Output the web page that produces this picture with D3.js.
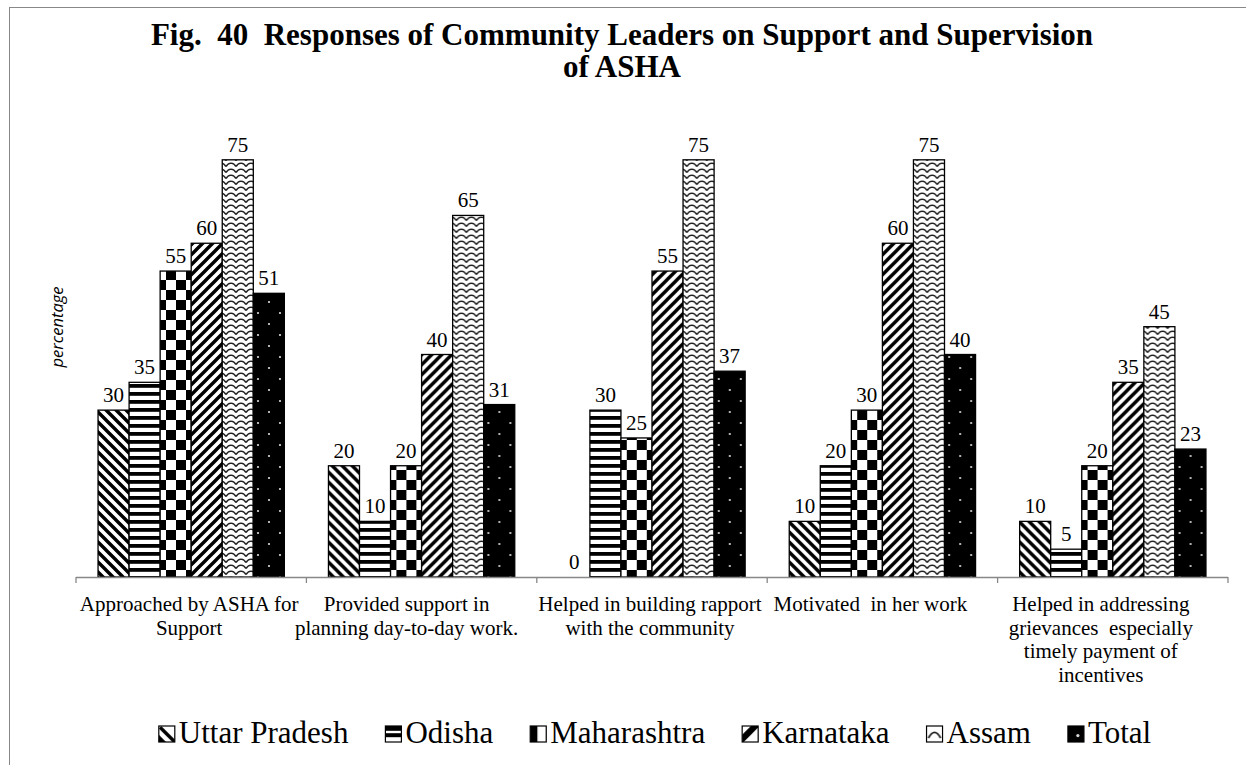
<!DOCTYPE html>
<html lang="en">
<head>
<meta charset="UTF-8">
<title>Fig. 40 Support and Supervision of ASHA</title>
<script src="https://cdnjs.cloudflare.com/ajax/libs/d3/7.8.5/d3.min.js"></script>
<style>
    body { margin: 0; background: #fff; }
    svg { display: block; font-family: "Liberation Serif", "Times New Roman", serif; }
    .title { font-weight: bold; font-size: 31px; white-space: pre; }
    .cat { font-size: 21px; white-space: pre; }
    .val { font-size: 21px; }
    .legend text { font-size: 31px; }
</style>
</head>
<body>
<svg id="chart" width="1246" height="765"></svg>
<script>
// categories (wrapped the way the picture wraps them)
var categories = ["Approached by ASHA for Support",
    "Provided support in planning day-to-day work.",
    "Helped in building rapport with the community",
    "Motivated  in her work",
    "Helped in addressing grievances  especially timely payment of incentives"];
var categoryLines = [
    ["Approached by ASHA for", "Support"],
    ["Provided support in", "planning day-to-day work."],
    ["Helped in building rapport", "with the community"],
    ["Motivated  in her work"],
    ["Helped in addressing", "grievances  especially", "timely payment of", "incentives"]];

var seriesNames = ["Uttar Pradesh", "Odisha", "Maharashtra", "Karnataka", "Assam", "Total"];
var uttarPradesh = [30, 20, 0, 10, 10];
var odisha = [35, 10, 30, 20, 5];
var maharashtra = [55, 20, 25, 30, 20];
var karnataka = [60, 40, 55, 60, 35];
var assam = [75, 65, 75, 75, 45];
var total = [51, 31, 37, 40, 23];
var seriesValues = [uttarPradesh, odisha, maharashtra, karnataka, assam, total];

var svg = d3.select("#chart");
var defs = svg.append("defs");

// bar fill patterns
function pat(id, w, h, bg) {
    var p = defs.append("pattern").attr("id", id)
        .attr("patternUnits", "userSpaceOnUse")
        .attr("width", w).attr("height", h);
    p.append("rect").attr("width", w).attr("height", h).attr("fill", bg);
    return p;
}
pat("p0", 10, 10, "#fff").append("path")
    .attr("d", "M-5,5 L5,15 M0,0 L10,10 M5,-5 L15,5")
    .attr("stroke", "#000").attr("stroke-width", 3.4);
pat("p1", 8, 8, "#fff").append("rect")
    .attr("width", 8).attr("height", 3.8).attr("fill", "#000");
var chk = pat("p2", 20, 20, "#fff");
chk.append("rect").attr("width", 10).attr("height", 10).attr("fill", "#000");
chk.append("rect").attr("x", 10).attr("y", 10).attr("width", 10).attr("height", 10).attr("fill", "#000");
pat("p3", 10, 10, "#fff").append("path")
    .attr("d", "M-5,5 L5,-5 M0,10 L10,0 M5,15 L15,5")
    .attr("stroke", "#000").attr("stroke-width", 3.4);
pat("p4", 10, 6, "#fff").append("path")
    .attr("d", "M0,4.6 Q2.5,0.6 5,1.4 Q7.5,0.6 10,4.6")
    .attr("fill", "none").attr("stroke", "#222").attr("stroke-width", 1.5);
var dots = pat("p5", 22, 22, "#000");
dots.append("circle").attr("cx", 6).attr("cy", 5).attr("r", 1.1).attr("fill", "#ddd");
dots.append("circle").attr("cx", 17).attr("cy", 16).attr("r", 1.1).attr("fill", "#ddd");

// legend keys: excel shows one blown-up tile in each small box
function key(id, bg) {
    var p = defs.append("pattern").attr("id", id)
        .attr("patternUnits", "objectBoundingBox")
        .attr("patternContentUnits", "objectBoundingBox")
        .attr("width", 1).attr("height", 1);
    p.append("rect").attr("width", 1).attr("height", 1).attr("fill", bg);
    return p;
}
key("k0", "#fff").append("path").attr("d", "M0,0.15 L0.15,0 L1,0.85 L1,1 L0.85,1 L0,0.15 Z M0,0.55 L0.45,1 L0,1 Z").attr("fill", "#000");
var kO = key("k1", "#fff");
kO.append("rect").attr("width", 1).attr("height", 0.3).attr("fill", "#000");
kO.append("rect").attr("y", 0.45).attr("width", 1).attr("height", 0.25).attr("fill", "#000");
key("k2", "#fff").append("rect").attr("width", 0.45).attr("height", 1).attr("fill", "#000");
key("k3", "#fff").append("path").attr("d", "M0,1 L0,0.55 L0.55,0 L1,0 L1,0.1 L0.1,1 Z").attr("fill", "#000");
key("k4", "#fff").append("path").attr("d", "M0.12,0.75 Q0.5,0.05 0.88,0.75")
    .attr("fill", "none").attr("stroke", "#222").attr("stroke-width", 0.12);
key("k5", "#000").append("circle").attr("cx", 0.62).attr("cy", 0.6).attr("r", 0.1).attr("fill", "#ddd");

// outer frame (only left and top edges fall inside the picture)
svg.append("rect").attr("x", 9.5).attr("y", 7.5).attr("width", 1300).attr("height", 900)
    .attr("fill", "none").attr("stroke", "#888");

// title
svg.append("text").attr("class", "title").attr("x", 622).attr("y", 45)
    .attr("text-anchor", "middle")
    .text("Fig.  40  Responses of Community Leaders on Support and Supervision");
svg.append("text").attr("class", "title").attr("x", 622).attr("y", 77)
    .attr("text-anchor", "middle").text("of ASHA");

var plotLeft = 76, plotRight = 1228, plotBase = 577, plotTop = 132;

var x0 = d3.scaleBand().domain(categories).range([plotLeft, plotRight]).padding(0);
var x1 = d3.scaleBand().domain(seriesNames).range([0, x0.bandwidth()])
    .paddingInner(0).paddingOuter(0.71);
var y = d3.scaleLinear().domain([0, 80]).range([plotBase, plotTop]);

// bars
var groups = svg.append("g").selectAll("g").data(categories).enter().append("g")
    .attr("transform", function (d) { return "translate(" + x0(d) + ",0)"; });

groups.each(function (cat, i) {
    var g = d3.select(this);
    var rows = seriesNames.map(function (s, j) { return { s: s, j: j, v: seriesValues[j][i] }; });
    g.selectAll("rect").data(rows).enter().append("rect")
        .attr("x", function (d) { return x1(d.s); })
        .attr("y", function (d) { return y(d.v); })
        .attr("width", x1.bandwidth())
        .attr("height", function (d) { return y(0) - y(d.v); })
        .attr("fill", function (d) { return "url(#p" + d.j + ")"; })
        .attr("stroke", function (d) { return d.v > 0 ? "#000" : "none"; })
        .attr("stroke-width", 1.3);
    g.selectAll("text").data(rows).enter().append("text")
        .attr("class", "val")
        .attr("x", function (d) { return x1(d.s) + x1.bandwidth() / 2; })
        .attr("y", function (d) { return y(d.v) - 8; })
        .attr("text-anchor", "middle")
        .text(function (d) { return d.v; });
});

// category axis: line plus ticks at every band edge
var edges = categories.map(function (c) { return x0(c); }).concat([x0.range()[1]]);
svg.append("line").attr("x1", plotLeft).attr("x2", plotRight)
    .attr("y1", plotBase + 0.5).attr("y2", plotBase + 0.5)
    .attr("stroke", "#888").attr("stroke-width", 1.3);
svg.append("g").selectAll("line").data(edges).enter().append("line")
    .attr("x1", function (d) { return d; }).attr("x2", function (d) { return d; })
    .attr("y1", plotBase).attr("y2", plotBase + 6)
    .attr("stroke", "#888").attr("stroke-width", 1.3);

// category labels (excel nudges a couple of them left)
var labelShift = [-2, -15, -2, -12, -12];
svg.append("g").selectAll("text").data(categories).enter().append("text")
    .attr("class", "cat")
    .attr("text-anchor", "middle")
    .each(function (c, i) {
        var t = d3.select(this);
        var cx = x0(c) + x0.bandwidth() / 2 + labelShift[i];
        categoryLines[i].forEach(function (line, k) {
            t.append("tspan").attr("x", cx).attr("y", 611 + k * 23.5).text(line);
        });
    });

// y axis title
svg.append("text")
    .attr("transform", "translate(63,327) rotate(-90)")
    .attr("text-anchor", "middle")
    .style("font-family", "'Open Sans', sans-serif")
    .style("font-style", "italic")
    .style("font-size", "16.5px")
    .text("percentage");

// legend
var legend = svg.append("g").attr("class", "legend");
var items = legend.selectAll("g").data(seriesNames).enter().append("g");
items.append("rect").attr("width", 16).attr("height", 16).attr("y", -17)
    .attr("fill", function (d, j) { return "url(#k" + j + ")"; })
    .attr("stroke", "#000").attr("stroke-width", 1.2);
items.append("text").attr("x", 20).text(function (d) { return d; });
var pos = 0, offsets = [];
items.each(function () {
    var w = 20 + d3.select(this).select("text").node().getComputedTextLength();
    offsets.push(pos);
    pos += w + 37;
});
var legendW = pos - 37, legendX = 655 - legendW / 2;
items.attr("transform", function (d, j) { return "translate(" + (legendX + offsets[j]) + ",743)"; });
</script>
</body>
</html>
